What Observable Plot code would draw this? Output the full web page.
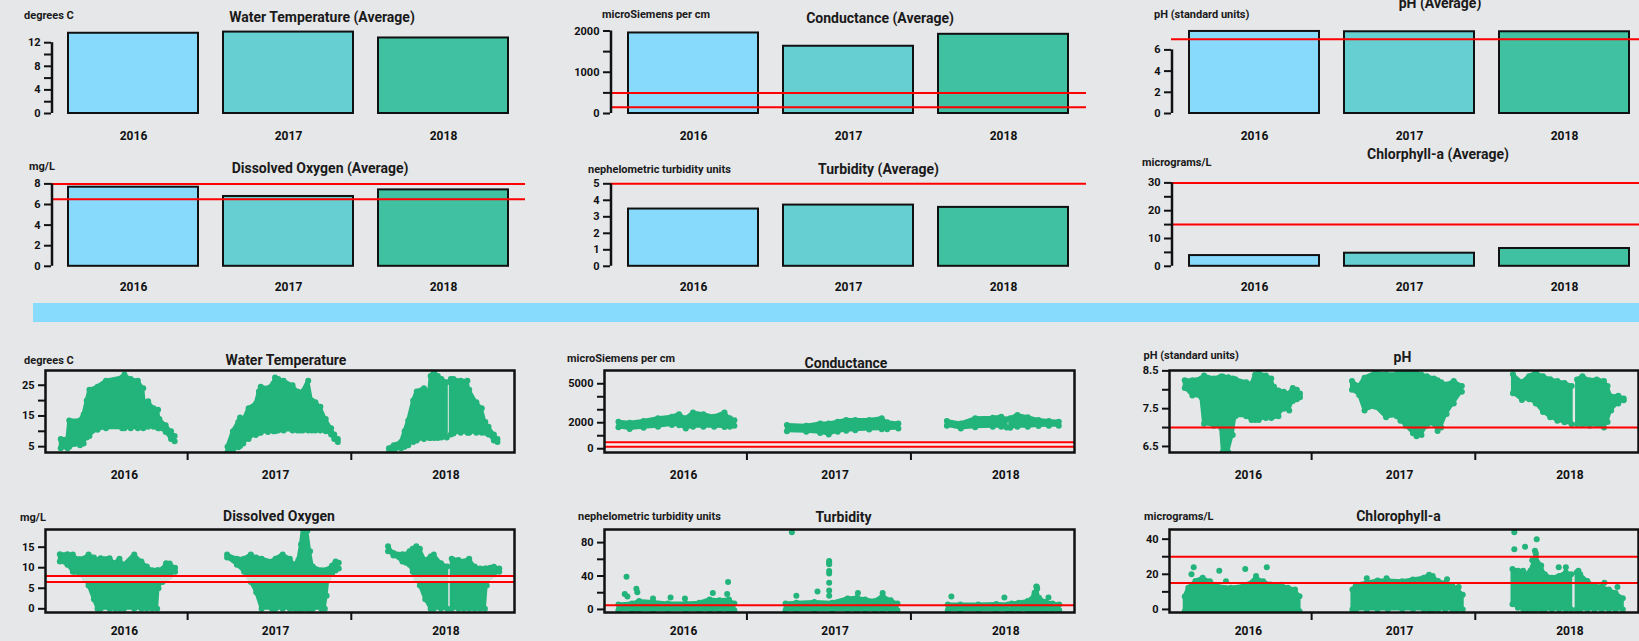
<!DOCTYPE html>
<html><head><meta charset="utf-8">
<script src="https://cdn.jsdelivr.net/npm/d3@7"></script>
<script src="https://cdn.jsdelivr.net/npm/@observablehq/plot@0.6"></script>
<style>
html,body{margin:0;padding:0;background:#e6e7e9;}
#root{position:relative;width:1639px;height:641px;overflow:hidden;background:#e6e7e9;font-family:Roboto,"Noto Sans",sans-serif;color:#1a1a1a;}
.panel{position:absolute;}
.title{position:absolute;font-weight:700;font-size:14px;white-space:nowrap;transform:translate(-50%,-50%);}
.unit{position:absolute;font-weight:700;font-size:11px;white-space:nowrap;transform:translateY(-50%);}
.band{position:absolute;background:#87dbfd;}
</style></head><body><div id="root"></div>
<script>
// ---------- DATA ----------
const years = ["2016", "2017", "2018"];
const barColors = ["#88dafd", "#66cfd2", "#40c2a2"];
const GREEN = "#22b47a";

// yearly averages
const avgWaterTemp = [13.6, 13.8, 12.8];
const avgConductance = [1952, 1630, 1920];
const avgPH = [7.74, 7.71, 7.71];
const avgDO = [7.68, 6.78, 7.42];
const avgTurbidity = [3.47, 3.71, 3.57];
const avgChlorophyll = [3.86, 4.71, 6.4];

// reference limits (red lines)
const limConductance = [500, 150];
const limPH = [7];
const limDO = [8, 6.5];
const limTurbidity = [5];
const limChlorophyll = [30, 15];

// axis ticks (all ticks, labelled ticks)
const ticksWTbar = [0, 2, 4, 6, 8, 10, 12], labWTbar = [0, 4, 8, 12];
const ticksCondBar = [0, 500, 1000, 1500, 2000], labCondBar = [0, 1000, 2000];
const ticksPHbar = [0, 2, 4, 6], labPHbar = [0, 2, 4, 6];
const ticksDObar = [0, 2, 4, 6, 8], labDObar = [0, 2, 4, 6, 8];
const ticksTurbBar = [0, 1, 2, 3, 4, 5], labTurbBar = [0, 1, 2, 3, 4, 5];
const ticksChlBar = [0, 5, 10, 15, 20, 25, 30], labChlBar = [0, 10, 20, 30];

const ticksWT = [5, 10, 15, 20, 25], labWT = [5, 15, 25];
const ticksCond = [0, 1000, 2000, 3000, 4000, 5000], labCond = [0, 2000, 5000];
const ticksPH = [6.5, 7, 7.5, 8, 8.5], labPH = [6.5, 7.5, 8.5];
const ticksDO = [0, 5, 10, 15], labDO = [0, 5, 10, 15];
const ticksTurb = [0, 20, 40, 60, 80], labTurb = [0, 40, 80];
const ticksChl = [0, 10, 20, 30, 40], labChl = [0, 20, 40];

const timeDomain = ["2016-02-19", "2018-12-31"];
const yearStarts = ["2017-01-01", "2018-01-01"];
const yearLabelDates = ["2016-08-13", "2017-07-16", "2018-07-31"];

const envWT = [
[2016,0,83,4.5,7.5],[2016,0,98,4.5,7.5],[2016,0,102,5,13.5],[2016,0,126,5.5,13.5],[2016,0,134,6,15.5],[2016,0,141,8,20],[2016,0,147,8.5,23.5],[2016,0,165,10.5,24.5],[2016,0,184,11,26.5],[2016,0,220,11,27.5],[2016,0,225,11,28.5],[2016,0,239,11,27],[2016,0,255,11,26.5],[2016,0,267,11,24],[2016,0,270,11.5,19.5],[2016,0,278,11.5,19.8],[2016,0,290,11.5,17.5],[2016,0,300,11,17],[2016,0,303,11,14],[2016,0,317,9.8,12],[2016,0,329,7.5,10],[2016,0,337,6.8,8.5],
[2017,0,89,3.2,5],[2017,0,101,3.5,10],[2017,0,113,4.8,13],[2017,0,117,5.2,14.5],[2017,0,124,6,13.5],[2017,0,136,7.5,17.5],[2017,0,152,8.8,19],[2017,0,159,9.5,23],[2017,0,163,9.5,24.5],[2017,0,179,9.8,24],[2017,0,191,10,25.5],[2017,0,195,10,27.5],[2017,0,202,10.3,27],[2017,0,214,10.3,26.5],[2017,0,234,10.3,25],[2017,0,245,10.3,23],[2017,0,251,10.3,21],[2017,0,257,10.3,23],[2017,0,269,10.3,26.5],[2017,0,277,10.3,20],[2017,0,285,10.3,19.5],[2017,0,296,10.3,18],[2017,0,308,10,14],[2017,0,320,9,11],[2017,0,327,7.5,9],[2017,0,335,6.5,7.5],
[2018,0,84,3.2,4.5],[2018,0,95,3.5,5.5],[2018,0,111,4.5,6.5],[2018,0,119,5,10],[2018,0,127,5.5,13.5],[2018,0,138,6.5,20],[2018,0,146,7,23],[2018,0,162,7.5,24],[2018,0,174,7.8,23],[2018,0,177,7.8,28],[2018,0,185,7.8,29.5],[2018,0,193,7.8,28],[2018,0,201,8,27],[2018,0,213,8,26],
[2018,1,222,9,27],[2018,1,228,9.3,27],[2018,1,244,9.5,26.5],[2018,1,259,9.5,26.5],[2018,1,263,9.5,23.5],[2018,1,279,9.5,19.5],[2018,1,291,9.5,17.5],[2018,1,299,9.5,13],[2018,1,306,9,11.5],[2018,1,318,7,9],[2018,1,326,6.5,7.5]
];
const envCond = [
[2016,0,80,1650,2080],[2016,0,105,1520,2000],[2016,0,136,1610,2130],[2016,0,168,1690,2340],[2016,0,199,1820,2470],[2016,0,215,1800,2650],[2016,0,230,1560,2340],[2016,0,246,1690,2780],[2016,0,269,1700,2650],[2016,0,293,1690,2470],[2016,0,316,1680,2780],[2016,0,328,1700,2340],[2016,0,338,1770,2200],
[2017,0,89,1350,1820],[2017,0,132,1300,1770],[2017,0,163,1220,1950],[2017,0,182,1090,1950],[2017,0,202,1300,2080],[2017,0,221,1380,2210],[2017,0,241,1430,2210],[2017,0,272,1480,2210],[2017,0,300,1500,2340],[2017,0,312,1500,2030],[2017,0,337,1560,1950],
[2018,0,80,1770,2130],[2018,0,111,1560,1950],[2018,0,143,1650,2340],[2018,0,182,1690,2390],[2018,0,201,1690,2470],[2018,0,213,1640,2260],
[2018,1,221,1610,2340],[2018,1,237,1690,2600],[2018,1,260,1690,2420],[2018,1,284,1740,2210],[2018,1,307,1760,2130],[2018,1,329,1770,2080]
];
const envPH = [
[2016,0,83,8.05,8.25],[2016,0,100,7.85,8.25],[2016,0,120,7.8,8.3],[2016,0,126,7.1,8.38],[2016,0,148,7.05,8.3],[2016,0,164,7.0,8.35],[2016,0,168,6.35,8.35],[2016,0,180,6.35,8.33],[2016,0,190,6.8,8.3],[2016,0,196,7.3,8.28],[2016,0,220,7.3,8.2],[2016,0,232,7.2,8.15],[2016,0,240,7.2,8.4],[2016,0,248,7.2,8.44],[2016,0,264,7.25,8.38],[2016,0,276,7.25,8.3],[2016,0,282,7.3,8.08],[2016,0,292,7.3,7.98],[2016,0,304,7.5,7.95],[2016,0,316,7.45,7.9],[2016,0,324,7.7,8.05],[2016,0,333,7.75,8.0],[2016,0,340,7.8,7.9],
[2017,0,90,8.0,8.23],[2017,0,106,7.86,8.1],[2017,0,118,7.45,8.32],[2017,0,142,7.55,8.45],[2017,0,166,7.27,8.41],[2017,0,190,7.3,8.42],[2017,0,198,7.18,8.47],[2017,0,210,7.05,8.5],[2017,0,226,6.85,8.5],[2017,0,234,6.77,8.45],[2017,0,245,6.8,8.4],[2017,0,257,7.05,8.36],[2017,0,273,7.1,8.3],[2017,0,281,6.91,8.25],[2017,0,289,7.0,8.2],[2017,0,301,7.36,8.14],[2017,0,317,7.64,8.23],[2017,0,335,7.95,8.1],
[2018,0,84,7.91,8.41],[2018,0,104,7.73,8.2],[2018,0,120,7.75,8.36],[2018,0,135,7.64,8.45],[2018,0,151,7.41,8.36],[2018,0,167,7.27,8.28],[2018,0,183,7.18,8.23],[2018,0,199,7.14,8.18],[2018,0,215,7.09,8.1],
[2018,1,227,7.09,8.27],[2018,1,239,7.07,8.36],[2018,1,255,7.05,8.25],[2018,1,271,7.07,8.27],[2018,1,287,7.0,8.23],[2018,1,295,7.15,8.1],[2018,1,303,7.45,7.82],[2018,1,319,7.64,7.84],[2018,1,331,7.72,7.77]
];
const envDO = [
[2016,0,81,11.5,13.3],[2016,0,98,10.7,13.3],[2016,0,110,9.0,13.2],[2016,0,114,9.0,12.3],[2016,0,137,7.3,12.3],[2016,0,145,5.7,13.2],[2016,0,157,2.3,12.5],[2016,0,165,0,11.9],[2016,0,172,0,12.3],[2016,0,192,0,12.3],[2016,0,204,0,11.1],[2016,0,214,0,12.2],[2016,0,224,0,10.7],[2016,0,247,0,13.2],[2016,0,263,0,11.5],[2016,0,275,0,10.3],[2016,0,287,0,9.4],[2016,0,298,0,9.4],[2016,0,301,5,9.4],[2016,0,310,6.5,9.6],[2016,0,318,7,11.1],[2016,0,326,7.8,11],[2016,0,338,9.0,10],
[2017,0,88,12.5,13.2],[2017,0,110,10.7,12.2],[2017,0,126,9.0,12.2],[2017,0,141,6.5,13.2],[2017,0,153,4.0,12.5],[2017,0,165,0,12.2],[2017,0,188,0,11.5],[2017,0,196,0,12.2],[2017,0,212,0,13.2],[2017,0,228,0,12.2],[2017,0,239,0,10.7],[2017,0,247,0,11.9],[2017,0,253,0,15.7],[2017,0,257,0,19.4],[2017,0,267,0,19.0],[2017,0,273,0,14.0],[2017,0,279,0,10.3],[2017,0,298,0,9.4],[2017,0,306,0,9.4],[2017,0,310,3.2,9.4],[2017,0,314,7.3,9.6],[2017,0,322,8.6,10.5],[2017,0,330,9.3,11.5],[2017,0,337,9.8,11.2],
[2018,0,82,14,15.25],[2018,0,94,13,13.6],[2018,0,114,11.5,13.3],[2018,0,122,11.2,13.2],[2018,0,130,10.7,14],[2018,0,137,9,14.6],[2018,0,145,7.3,15.25],[2018,0,153,5.7,14.6],[2018,0,165,2.3,11.8],[2018,0,177,0,12.7],[2018,0,184,0,13.2],[2018,0,200,0,11.1],[2018,0,214,0,10.3],
[2018,1,224,0,12.2],[2018,1,239,0,11.9],[2018,1,251,0,11.5],[2018,1,263,0,12.2],[2018,1,275,0,10.3],[2018,1,287,0,9.8],[2018,1,298,0,9.8],[2018,1,302,5.7,9.8],[2018,1,310,7.75,10],[2018,1,318,8.2,10.25],[2018,1,330,9,9.8]
];
const envTurb = [
[2016,0,80,-1,6],[2016,0,110,-1,7],[2016,0,126,-1,10],[2016,0,157,-1,9],[2016,0,190,-1,7],[2016,0,230,-1,7],[2016,0,260,-1,8],[2016,0,283,-1,12],[2016,0,305,-1,11],[2016,0,326,-1,12],[2016,0,338,-1,7],
[2017,0,86,-1,7],[2017,0,110,-1,8],[2017,0,150,-1,9],[2017,0,190,-1,8],[2017,0,224,-1,13],[2017,0,245,-1,14],[2017,0,263,-1,12],[2017,0,285,-1,10],[2017,0,302,-1,16],[2017,0,320,-1,11],[2017,0,335,-1,7],
[2018,0,82,-1,6],[2018,0,110,-1,6],[2018,0,150,-1,6],[2018,0,190,-1,6.5],[2018,0,216,-1,6],
[2018,1,224,-1,7],[2018,1,240,-1,8],[2018,1,260,-1,10],[2018,1,268,-1,12],[2018,1,276,-1,20],[2018,1,280,-1,27],[2018,1,285,-1,14],[2018,1,300,-1,9],[2018,1,315,-1,7],[2018,1,330,-1,6]
];
const envChl = [
[2016,0,83,-1,7.4],[2016,0,91,-1,12.3],[2016,0,107,-1,16.2],[2016,0,123,-1,18],[2016,0,139,-1,16],[2016,0,155,-1,13.3],[2016,0,186,-1,12.3],[2016,0,214,-1,13.3],[2016,0,226,-1,14.3],[2016,0,242,-1,18],[2016,0,258,-1,16],[2016,0,274,-1,14.2],[2016,0,298,-1,14],[2016,0,313,-1,12.3],[2016,0,329,-1,11.3],[2016,0,339,-1,7.5],
[2017,0,91,0,11.3],[2017,0,99,0,14],[2017,0,123,0,15.2],[2017,0,147,0,16.5],[2017,0,170,0,16.5],[2017,0,202,0,16],[2017,0,226,0,17],[2017,0,250,0,18],[2017,0,262,0,19.7],[2017,0,270,0,19],[2017,0,282,0,16.2],[2017,0,298,0,15],[2017,0,314,0,13.3],[2017,0,325,0,12],[2017,0,337,0,8.4],
[2018,0,83,3,23],[2018,0,95,1,22],[2018,0,107,0,22],[2018,0,115,0,20],[2018,0,123,0,22],[2018,0,135,0,30],[2018,0,147,0,25],[2018,0,155,0,20],[2018,0,171,0,18],[2018,0,187,0,19],[2018,0,202,0,21],[2018,0,214,0,20],
[2018,1,226,0,21],[2018,1,234,0,20],[2018,1,250,0,16.2],[2018,1,266,0,13.3],[2018,1,282,0,13],[2018,1,298,0,11.3],[2018,1,313,0,9.4],[2018,1,329,0,6.4]
];
// isolated readings: [year, day of year, value]
const outTurb = [
[2016,98,39],[2016,94,18.5],[2016,100,15.6],[2016,120,24.6],[2016,122,20.5],[2016,157,13],[2016,196,14.4],[2016,228,13],[2016,290,19.7],[2016,322,18.5],[2016,324,32.8],
[2017,100,92.3],[2017,110,16.4],[2017,157,21.3],[2017,183,58],[2017,183,56],[2017,183,54],[2017,183,46],[2017,183,43],[2017,183,32],[2017,183,22.5],[2017,183,16.4],[2017,247,19.7],[2017,302,19.7],
[2018,90,15.6],[2018,208,14.4],[2018,279,27.5],[2018,281,24.6],[2018,275,19.7],[2018,306,14.4]
];
const outChl = [
[2016,103,24],[2016,98,20],[2016,160,22],[2016,218,23],[2016,266,24],[2016,242,19],[2016,175,16],
[2017,123,17.8],[2017,167,17.8],[2017,302,17.2],[2017,328,12.7],
[2018,87,44],[2018,111,35.7],[2018,87,34.3],[2018,137,40],[2018,133,33.4],[2018,135,32],[2018,127,28],[2018,186,24],[2018,202,24],[2018,230,22],[2018,238,17.2],[2018,288,15.2],[2018,317,12.7]
];

// ---------- LAYOUT / RENDER ----------
const root = document.getElementById("root");
const STEP = 155.2, BW = 130, GAP = STEP - BW;
const dayDate = (y, d) => new Date(Date.UTC(y, 0, 1) + d * 864e5);
const baseStyle = {background: "transparent", overflow: "visible", fontFamily: "Roboto, 'Noto Sans', sans-serif", fontWeight: "700", color: "#111"};

function place(node, left, top) {
  const div = document.createElement("div");
  div.className = "panel";
  div.style.left = left + "px"; div.style.top = top + "px";
  div.appendChild(node); root.appendChild(div);
}
function addText(cls, text, x, y) {
  const d = document.createElement("div");
  d.className = cls; d.textContent = text;
  d.style.left = x + "px"; d.style.top = y + "px";
  root.appendChild(d);
}

function barPanel(c) {
  const data = years.map((y, i) => ({year: y, v: c.values[i]}));
  const chart = Plot.plot({
    width: c.width, height: c.height,
    marginLeft: c.axisX - c.left,
    marginRight: Math.max(0, c.left + c.width - c.redEnd),
    marginTop: c.baseline - c.dmax * c.k - c.top,
    marginBottom: c.top + c.height - c.baseline,
    x: {type: "band", domain: years, range: [c.barStart - c.left, c.barStart - c.left + 3 * STEP - GAP], paddingInner: GAP / STEP, paddingOuter: 0},
    y: {domain: [0, c.dmax]},
    color: {domain: years, range: barColors},
    style: baseStyle,
    marks: [
      Plot.barY(data, {x: "year", y: "v", fill: "year", stroke: "#111", strokeWidth: 2}),
      Plot.ruleY(c.lims, {stroke: "#f00", strokeWidth: 2}),
      Plot.ruleX([years[0]], {y1: 0, y2: d3.max(c.ticks), dx: -((c.barStart - c.axisX) + BW / 2), stroke: "#111", strokeWidth: 2.5}),
      Plot.axisY({ticks: c.ticks, tickFormat: d => c.labels.includes(d) ? String(d) : "", tickSize: 7, tickPadding: 4, fontSize: 11, strokeWidth: 2, stroke: "#111", label: null}),
      Plot.axisX({tickSize: 0, tickPadding: c.labelPad, fontSize: 12, label: null})
    ]
  });
  place(chart, c.left, c.top);
}

function scatterPanel(c) {
  const env = c.env.map(([y, s, d, lo, hi]) => ({date: dayDate(y, d), seg: y * 10 + s, lo, hi}));
  const out = (c.out || []).map(([y, d, v]) => ({date: dayDate(y, d), v}));
  const xd = timeDomain.map(s => new Date(s));
  const marks = [
    Plot.areaY(env, {x: "date", y1: "lo", y2: "hi", z: "seg", fill: GREEN, stroke: GREEN, strokeWidth: 3, strokeLinejoin: "round", clip: true}),
    Plot.dot(env, {x: "date", y: "hi", r: 3, fill: GREEN, clip: true}),
    Plot.dot(env, {x: "date", y: "lo", r: 3, fill: GREEN, clip: true}),
    Plot.dot(out, {x: "date", y: "v", r: 3, fill: GREEN, clip: true})
  ];
  if (c.band) marks.push(Plot.rect([c.lims], {x1: () => xd[0], x2: () => xd[1], y1: d => d3.min(d), y2: d => d3.max(d), fill: "#fbeff1", fillOpacity: 0.8, clip: true}));
  marks.push(
    Plot.ruleY(c.lims, {stroke: "#f00", strokeWidth: 2, clip: true}),
    Plot.frame({stroke: "#111", strokeWidth: 2.5}),
    Plot.axisY({ticks: c.ticks, tickFormat: d => c.labels.includes(d) ? String(d) : "", tickSize: 7, tickPadding: 4, fontSize: 11, strokeWidth: 2, stroke: "#111", label: null}),
    Plot.axisX({ticks: yearStarts.map(s => new Date(s)), tickSize: 8, tickFormat: () => "", strokeWidth: 2, stroke: "#111", label: null}),
    Plot.axisX({ticks: yearLabelDates.map(s => new Date(s)), tickSize: 0, tickPadding: c.labelPad, tickFormat: d3.utcFormat("%Y"), fontSize: 12, label: null})
  );
  const chart = Plot.plot({
    width: c.width, height: c.height,
    marginLeft: c.fx0 - c.left, marginRight: c.left + c.width - c.fx1,
    marginTop: c.fy0 - c.top, marginBottom: c.top + c.height - c.fy1,
    x: {type: "utc", domain: xd},
    y: {domain: c.yDomain},
    style: baseStyle,
    marks
  });
  place(chart, c.left, c.top);
}

// top section: yearly averages
const colL = [0, 545, 1095], colW = [540, 545, 544];
const axX = [51, 610, 1171], redEnd = [525, 1086, 1646], barStart = [67.5, 627.5, 1188.5];
function barRow(i, top, height, baseline, labelPad, spec) {
  barPanel(Object.assign({left: colL[i], width: colW[i], top, height, baseline, labelPad, axisX: axX[i], redEnd: redEnd[i], barStart: barStart[i]}, spec));
}
barRow(0, 0, 150, 113, 18, {k: 5.9, dmax: 14, ticks: ticksWTbar, labels: labWTbar, values: avgWaterTemp, lims: []});
barRow(1, 0, 150, 113, 18, {k: 82.5 / 2000, dmax: 2000, ticks: ticksCondBar, labels: labCondBar, values: avgConductance, lims: limConductance});
barRow(2, 0, 150, 113, 18, {k: 10.6, dmax: 8, ticks: ticksPHbar, labels: labPHbar, values: avgPH, lims: limPH});
barRow(0, 145, 155, 265.8, 16, {k: 10.3, dmax: 8.2, ticks: ticksDObar, labels: labDObar, values: avgDO, lims: limDO});
barRow(1, 145, 155, 265.8, 16, {k: 16.5, dmax: 5, ticks: ticksTurbBar, labels: labTurbBar, values: avgTurbidity, lims: limTurbidity});
barRow(2, 145, 155, 265.8, 16, {k: 2.78, dmax: 30, ticks: ticksChlBar, labels: labChlBar, values: avgChlorophyll, lims: limChlorophyll});

// separator band
const band = document.createElement("div");
band.className = "band";
Object.assign(band.style, {left: "33px", top: "303px", width: "1606px", height: "19px"});
root.appendChild(band);

// bottom section: readings over time
const fX = [[45, 514], [604, 1074], [1169, 1638]];
function scRow(i, top, height, fy0, fy1, labelPad, spec) {
  scatterPanel(Object.assign({left: colL[i], width: colW[i], top, height, fx0: fX[i][0], fx1: fX[i][1], fy0, fy1, labelPad}, spec));
}
scRow(0, 345, 140, 370, 452, 18, {yDomain: [3.1, 29.8], ticks: ticksWT, labels: labWT, env: envWT, lims: []});
scRow(1, 345, 140, 370, 452, 18, {yDomain: [-290, 6020], ticks: ticksCond, labels: labCond, env: envCond, lims: limConductance, band: true});
scRow(2, 345, 140, 370, 452, 18, {yDomain: [6.34, 8.51], ticks: ticksPH, labels: labPH, env: envPH, lims: limPH});
scRow(0, 500, 141, 529, 612, 14, {yDomain: [-0.9, 19.3], ticks: ticksDO, labels: labDO, env: envDO, lims: limDO, band: true});
scRow(1, 500, 141, 529, 612, 14, {yDomain: [-3.7, 95.7], ticks: ticksTurb, labels: labTurb, env: envTurb, out: outTurb, lims: limTurbidity});
scRow(2, 500, 141, 529, 612, 14, {yDomain: [-1.75, 45.5], ticks: ticksChl, labels: labChl, env: envChl, out: outChl, lims: limChlorophyll});

// titles and units
addText("title", "Water Temperature (Average)", 322, 17);
addText("title", "Conductance (Average)", 880, 17.5);
addText("title", "pH (Average)", 1440, 3);
addText("title", "Dissolved Oxygen (Average)", 320, 167.5);
addText("title", "Turbidity (Average)", 878.5, 169);
addText("title", "Chlorphyll-a (Average)", 1438, 154);
addText("unit", "degrees C", 24, 14.5);
addText("unit", "microSiemens per cm", 602, 14);
addText("unit", "pH (standard units)", 1154, 14);
addText("unit", "mg/L", 29, 166);
addText("unit", "nephelometric turbidity units", 588, 169);
addText("unit", "micrograms/L", 1142, 162);
addText("title", "Water Temperature", 286, 359.5);
addText("title", "Conductance", 846, 363);
addText("title", "pH", 1402.5, 357);
addText("title", "Dissolved Oxygen", 279, 515.5);
addText("title", "Turbidity", 843.5, 517);
addText("title", "Chlorophyll-a", 1398.5, 516);
addText("unit", "degrees C", 24, 360);
addText("unit", "microSiemens per cm", 567, 357.5);
addText("unit", "pH (standard units)", 1143.5, 354.5);
addText("unit", "mg/L", 20, 517);
addText("unit", "nephelometric turbidity units", 578, 516);
addText("unit", "micrograms/L", 1144, 516);
</script></body></html>
